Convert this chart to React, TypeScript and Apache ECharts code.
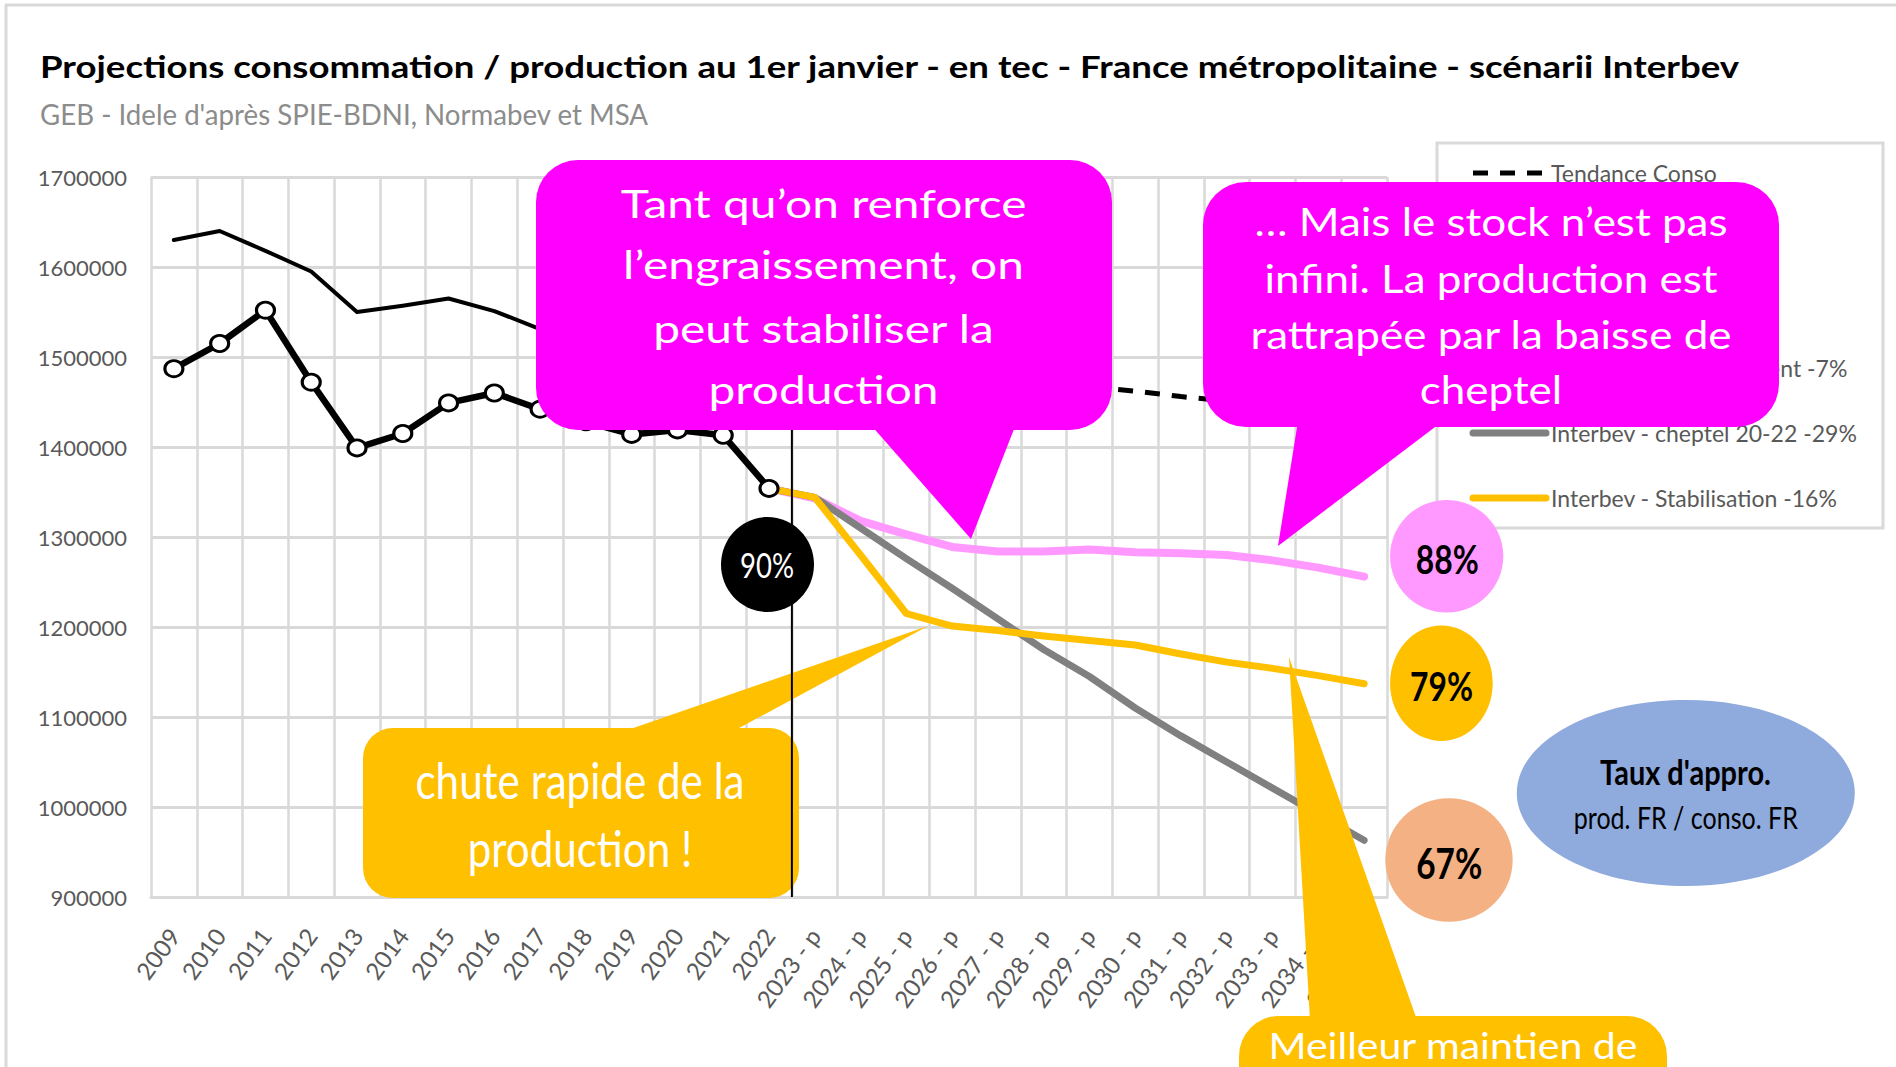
import React, { useEffect, useRef } from "react";
import * as echarts from "echarts";

const categories = [
  "2009", "2010", "2011", "2012", "2013", "2014", "2015", "2016", "2017",
  "2018", "2019", "2020", "2021", "2022",
  "2023 - p", "2024 - p", "2025 - p", "2026 - p", "2027 - p", "2028 - p",
  "2029 - p", "2030 - p", "2031 - p", "2032 - p", "2033 - p", "2034 - p", "2035 - p",
];

const consommation = [
  1630000, 1640000, 1618000, 1595000, 1550000, 1557000, 1565000, 1551000, 1531000,
  1522000, 1517000, 1519000, 1511000, 1504000,
  null, null, null, null, null, null, null, null, null, null, null, null, null,
];

const production = [
  1487000, 1515000, 1552000, 1472000, 1399000, 1415000, 1449000, 1460000, 1442000,
  1428000, 1414000, 1419000, 1413000, 1354000,
  null, null, null, null, null, null, null, null, null, null, null, null, null,
];

const tendanceConso = [
  null, null, null, null, null, null, null, null, null, null, null, null, null,
  1504000, 1499000, 1493000, 1488000, 1483000, 1477000, 1472000, 1467000,
  1462000, 1456000, 1451000, 1446000, 1440000, 1435000,
];

const engraissement = [
  null, null, null, null, null, null, null, null, null, null, null, null, null,
  1354000, 1343000, 1318000, 1303000, 1289000, 1284000, 1284000, 1286000,
  1283000, 1282000, 1280000, 1274000, 1266000, 1256000,
];

const cheptel = [
  null, null, null, null, null, null, null, null, null, null, null, null, null,
  1354000, 1344000, 1310000, 1276000, 1243000, 1209000, 1175000, 1145000,
  1110000, 1079000, 1050000, 1021000, 992000, 963000,
];

const stabilisation = [
  null, null, null, null, null, null, null, null, null, null, null, null, null,
  1354000, 1344000, 1280000, 1215000, 1201000, 1196000, 1190000, 1185000,
  1180000, 1170000, 1161000, 1154000, 1146000, 1137000,
];

const yTicks = { min: 900000, max: 1700000, interval: 100000 };

const NAME_CONSO = "Consommation";
const NAME_PROD = "Production";
const NAME_TREND = "Tendance Conso";
const NAME_ENG = "Interbev - engraissement -7%";
const NAME_CHEP = "Interbev - cheptel 20-22 -29%";
const NAME_STAB = "Interbev - Stabilisation -16%";

const TITLE =
  "Projections consommation / production au 1er janvier - en tec - France métropolitaine - scénarii Interbev";
const SUBTITLE = "GEB - Idele d'après SPIE-BDNI, Normabev et MSA";

const bubble1Lines = ["Tant qu’on renforce", "l’engraissement, on", "peut stabiliser la", "production"];
const bubble2Lines = ["… Mais le stock n’est pas", "infini. La production est", "rattrapée par la baisse de", "cheptel"];
const chuteLines = ["chute rapide de la", "production !"];
const meilleurLines = ["Meilleur maintien de"];

const FONT = "Lato";

let measureCtx: CanvasRenderingContext2D | null = null;
function measure(text: string, size: number, weight: string): number {
  if (!measureCtx) measureCtx = document.createElement("canvas").getContext("2d");
  if (!measureCtx) return text.length * size * 0.5;
  measureCtx.font = `${weight} ${size}px ${FONT}`;
  return measureCtx.measureText(text).width;
}

function textEls(
  id: string,
  lines: string[],
  x: number,
  ys: number[],
  size: number,
  weight: string,
  color: string,
  refLine: number,
  targetW: number,
  align: string,
  z: number
) {
  const sx = targetW / measure(lines[refLine], size, weight);
  return lines.map((t, i) => ({
    type: "text",
    id: `${id}-${i}`,
    x,
    y: ys[i],
    scaleX: sx,
    z,
    silent: true,
    style: {
      text: t,
      fill: color,
      fontFamily: FONT,
      fontSize: size,
      fontWeight: weight,
      align,
      verticalAlign: "middle",
    },
  }));
}

function buildGraphic(lineX: number, yTop: number, yBot: number) {
  const g: any[] = [];
  // outer frame
  g.push({ type: "line", id: "frame-top", z: 1, shape: { x1: 5, y1: 5, x2: 1896, y2: 5 }, style: { stroke: "#d9d9d9", lineWidth: 3 } });
  g.push({ type: "line", id: "frame-left", z: 1, shape: { x1: 6, y1: 5, x2: 6, y2: 1067 }, style: { stroke: "#d9d9d9", lineWidth: 3 } });
  // legend frame
  g.push({ type: "rect", id: "legend-box", z: 1, shape: { x: 1437, y: 143, width: 446, height: 385 }, style: { fill: "none", stroke: "#d9d9d9", lineWidth: 3 } });

  // titles
  g.push(...textEls("title", [TITLE], 40, [66.5], 30, "bold", "#000000", 0, 1701, "left", 30));
  g.push(...textEls("subtitle", [SUBTITLE], 40, [114], 28, "normal", "#8c8c8c", 0, 609, "left", 30));

  // chute bubble (below the black line)
  g.push({ type: "rect", id: "chute-box", z: 10, shape: { x: 363, y: 728, width: 436, height: 170, r: 30 }, style: { fill: "#ffc000" } });
  g.push({ type: "polygon", id: "chute-tail", z: 10, shape: { points: [[616, 734], [728, 734], [928, 626]] }, style: { fill: "#ffc000" } });
  g.push(...textEls("chute", chuteLines, 580, [780, 848], 50, "normal", "#ffffff", 0, 329, "center", 11));

  // vertical separator between history and projections
  g.push({ type: "line", id: "sep", z: 12, shape: { x1: lineX, y1: yTop, x2: lineX, y2: yBot }, style: { stroke: "#000000", lineWidth: 2 } });

  // 90% badge
  g.push({ type: "ellipse", id: "e90", z: 13, shape: { cx: 767.5, cy: 564.5, rx: 46.5, ry: 47.5 }, style: { fill: "#000000" } });
  g.push(...textEls("t90", ["90%"], 767, [564.5], 35, "normal", "#ffffff", 0, 54, "center", 14));

  // magenta bubble 1
  g.push({ type: "rect", id: "b1-box", z: 20, shape: { x: 536, y: 160, width: 576, height: 270, r: 42 }, style: { fill: "#ff00ff" } });
  g.push({ type: "polygon", id: "b1-tail", z: 20, shape: { points: [[870, 424], [1016, 424], [971, 539]] }, style: { fill: "#ff00ff" } });
  g.push(...textEls("b1", bubble1Lines, 823.5, [202.7, 264, 327.7, 389], 39, "normal", "#ffffff", 0, 406, "center", 21));

  // magenta bubble 2
  g.push({ type: "rect", id: "b2-box", z: 20, shape: { x: 1203, y: 182, width: 576, height: 245, r: 43 }, style: { fill: "#ff00ff" } });
  g.push({ type: "polygon", id: "b2-tail", z: 20, shape: { points: [[1298, 421], [1443, 421], [1278, 546]] }, style: { fill: "#ff00ff" } });
  g.push(...textEls("b2", bubble2Lines, 1491, [221, 277.7, 334, 389], 39, "normal", "#ffffff", 2, 482, "center", 21));

  // ratio badges
  g.push({ type: "ellipse", id: "e88", z: 20, shape: { cx: 1446.7, cy: 556.3, rx: 56.6, ry: 56.3 }, style: { fill: "#ff99ff" } });
  g.push(...textEls("t88", ["88%"], 1447.3, [559], 40, "bold", "#000000", 0, 63, "center", 21));
  g.push({ type: "ellipse", id: "e79", z: 20, shape: { cx: 1441.4, cy: 683.3, rx: 51.3, ry: 57.7 }, style: { fill: "#ffc000" } });
  g.push(...textEls("t79", ["79%"], 1441.6, [685], 41, "bold", "#000000", 0, 63, "center", 21));
  g.push({ type: "ellipse", id: "e67", z: 20, shape: { cx: 1449, cy: 860, rx: 63.7, ry: 61.8 }, style: { fill: "#f4b183" } });
  g.push(...textEls("t67", ["67%"], 1449.2, [862.5], 42, "bold", "#000000", 0, 66, "center", 21));

  // Taux d'appro ellipse
  g.push({ type: "ellipse", id: "etaux", z: 20, shape: { cx: 1685.8, cy: 793, rx: 169, ry: 93 }, style: { fill: "#8faadc" } });
  g.push(...textEls("ttaux", ["Taux d'appro."], 1685.5, [771], 35, "bold", "#000000", 0, 171, "center", 21));
  g.push(...textEls("tprod", ["prod. FR / conso. FR"], 1685.8, [817.6], 30, "normal", "#000000", 0, 224, "center", 21));

  // Meilleur maintien bubble
  g.push({ type: "rect", id: "m-box", z: 20, shape: { x: 1239, y: 1016, width: 428, height: 120, r: 40 }, style: { fill: "#ffc000" } });
  g.push({ type: "polygon", id: "m-tail", z: 20, shape: { points: [[1310, 1020], [1417, 1020], [1289, 657]] }, style: { fill: "#ffc000" } });
  g.push(...textEls("m", meilleurLines, 1453, [1045], 36, "normal", "#ffffff", 0, 370, "center", 21));
  return g;
}

export default function App() {
  const ref = useRef<HTMLDivElement>(null);
  useEffect(() => {
    document.body.style.margin = "0";
    const el = ref.current;
    if (!el) return;
    const chart = echarts.init(el, null, { renderer: "svg" });
    const lineCommon = { type: "line", connectNulls: false, z: 2 };
    const option: any = {
      animation: false,
      backgroundColor: "#ffffff",
      textStyle: { fontFamily: FONT },
      grid: { left: 151, top: 177, right: 509, bottom: 170, containLabel: false },
      legend: {
        orient: "vertical",
        left: 1469,
        top: 158,
        padding: 0,
        itemWidth: 73,
        itemHeight: 30,
        itemGap: 35,
        selectedMode: false,
        data: [NAME_TREND, NAME_CONSO, NAME_PROD, NAME_ENG, NAME_CHEP, NAME_STAB],
        lineStyle: { width: "inherit" },
        itemStyle: { opacity: 0 },
        textStyle: { fontFamily: FONT, fontSize: 23, color: "#595959", lineHeight: 30 },
      },
      xAxis: {
        type: "category",
        data: categories,
        boundaryGap: true,
        axisTick: { show: false },
        axisLine: { lineStyle: { color: "#d9d9d9", width: 3 } },
        splitLine: { show: true, interval: 0, lineStyle: { color: "#d9d9d9", width: 2.5 } },
        axisLabel: { interval: 0, rotate: 54, margin: 34, fontFamily: FONT, fontSize: 24, color: "#595959" },
      },
      yAxis: {
        type: "value",
        min: yTicks.min,
        max: yTicks.max,
        interval: yTicks.interval,
        axisLine: { show: false },
        axisTick: { show: false },
        splitLine: { lineStyle: { color: "#d9d9d9", width: 3 } },
        axisLabel: { margin: 24, fontFamily: FONT, fontSize: 22, color: "#595959", formatter: (v: number) => String(v) },
      },
      series: [
        { ...lineCommon, name: NAME_CONSO, data: consommation, symbol: "none", itemStyle: { color: "#000000" }, lineStyle: { color: "#000000", width: 4, cap: "round", join: "round" } },
        {
          ...lineCommon,
          name: NAME_PROD,
          data: production,
          symbol: "circle",
          symbolSize: [18, 16],
          itemStyle: { color: "#ffffff", borderColor: "#000000", borderWidth: 3 },
          lineStyle: { color: "#000000", width: 6.5, cap: "round", join: "round" },
        },
        { ...lineCommon, name: NAME_TREND, data: tendanceConso, symbol: "none", itemStyle: { color: "#000000" }, lineStyle: { color: "#000000", width: 5, type: [15, 12] } },
        { ...lineCommon, name: NAME_ENG, data: engraissement, symbol: "none", itemStyle: { color: "#ff99ff" }, lineStyle: { color: "#ff99ff", width: 8, cap: "round", join: "round" } },
        { ...lineCommon, name: NAME_CHEP, data: cheptel, symbol: "none", itemStyle: { color: "#808080" }, lineStyle: { color: "#808080", width: 7, cap: "round", join: "round" } },
        { ...lineCommon, name: NAME_STAB, data: stabilisation, symbol: "none", itemStyle: { color: "#ffc000" }, lineStyle: { color: "#ffc000", width: 7, cap: "round", join: "round" } },
      ],
    };
    chart.setOption(option);
    const xa = chart.convertToPixel({ xAxisIndex: 0 }, categories[13]) as number;
    const xb = chart.convertToPixel({ xAxisIndex: 0 }, categories[14]) as number;
    const yTop = chart.convertToPixel({ yAxisIndex: 0 }, yTicks.max) as number;
    const yBot = chart.convertToPixel({ yAxisIndex: 0 }, yTicks.min) as number;
    chart.setOption({ graphic: buildGraphic((xa + xb) / 2, yTop, yBot) });
    return () => chart.dispose();
  }, []);
  return <div ref={ref} style={{ width: 1896, height: 1067 }} />;
}
